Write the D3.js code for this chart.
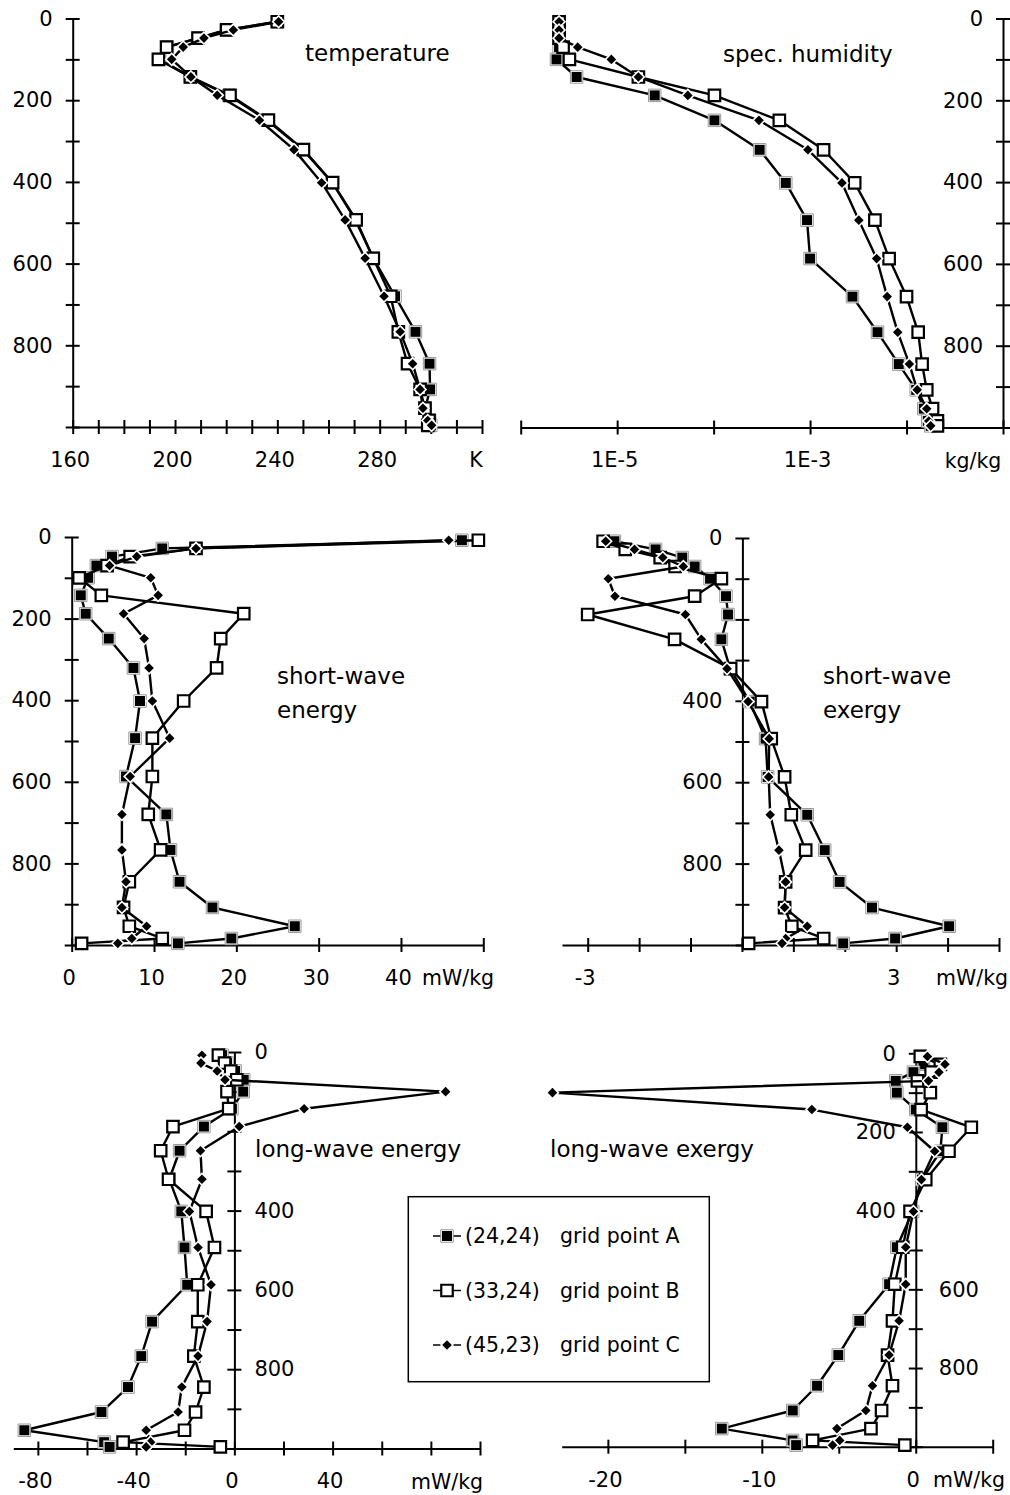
<!DOCTYPE html>
<html>
<head>
<meta charset="utf-8">
<script src="https://cdn.jsdelivr.net/npm/d3@7"></script>
<style>
body { margin: 0; background: #fff; }
svg { font-family: "DejaVu Sans", Verdana, sans-serif; }
.axis path, .axis line { stroke: #000; stroke-width: 2px; }
.axis text { font-size: 21px; fill: #000; font-family: "DejaVu Sans", Verdana, sans-serif; }
.title { font-size: 23px; }
.unit { font-size: 20.5px; }
</style>
</head>
<body>
<svg id="chart" width="1010" height="1495"></svg>
<script>
// model levels (hPa), same for every profile
var levels = [8, 28, 48, 70, 100, 143, 188, 249, 321, 402, 493, 587, 680, 767, 845, 908, 954, 984, 996];

// temperature (K)
var tempA = [240, 220, 209, 197, 194, 206, 221, 236, 250, 261.5, 270.5, 277.5, 286, 294, 299.5, 299.7, 297.8, 299.5, 300];
var tempB = [240, 220.2, 209, 196.7, 193.5, 206, 221.5, 236.5, 250.2, 261.6, 270.8, 277.5, 284.3, 287.3, 290.9, 295.8, 297.7, 299.3, 298.8];
var tempC = [240.5, 222.8, 211.3, 203.2, 198.7, 206.2, 216.5, 233, 246.5, 257.3, 266.5, 274.3, 281.7, 288, 292.9, 295.8, 296.9, 298.8, 300.3];

// specific humidity (kg/kg)
var humA = [2.5e-6, 2.5e-6, 2.5e-6, 2.5e-6, 2.35e-6, 3.8e-6, 2.45e-5, 1.02e-4, 3.0e-4, 5.6e-4, 9.3e-4, 1.0e-3, 2.75e-3, 5.0e-3, 8.3e-3, 1.26e-2, 1.51e-2, 1.66e-2, 1.78e-2];
var humB = [2.5e-6, 2.5e-6, 2.5e-6, 2.75e-6, 3.2e-6, 1.66e-5, 1.02e-4, 4.8e-4, 1.38e-3, 2.9e-3, 4.7e-3, 6.6e-3, 1.0e-2, 1.32e-2, 1.45e-2, 1.62e-2, 1.86e-2, 2.09e-2, 2.09e-2];
var humC = [2.5e-6, 2.5e-6, 2.5e-6, 3.9e-6, 8.7e-6, 1.66e-5, 5.4e-5, 2.95e-4, 9.5e-4, 2.14e-3, 3.2e-3, 4.9e-3, 6.3e-3, 8.1e-3, 1.07e-2, 1.29e-2, 1.62e-2, 1.7e-2, 1.78e-2];

// short-wave energy (mW/kg)
var swEnA = [47.4, 11.0, 4.9, 3.0, 2.0, 1.1, 1.7, 4.5, 7.5, 8.3, 7.7, 6.6, 11.5, 12.0, 13.1, 17.1, 27.1, 19.4, 12.9];
var swEnB = [49.4, 15.1, 7.1, 4.3, 0.9, 3.6, 20.9, 18.1, 17.6, 13.6, 9.8, 9.8, 9.3, 10.8, 7.0, 6.3, 7.0, 11.0, 1.2];
var swEnC = [45.8, 15.1, 7.9, 4.6, 9.6, 10.5, 6.3, 8.8, 9.4, 9.8, 11.9, 7.1, 6.1, 6.1, 6.6, 6.1, 9.1, 7.3, 5.6];

// short-wave exergy (mW/kg)
var swExA = [-2.48, -1.68, -1.16, -0.92, -0.62, -0.31, -0.27, -0.40, -0.23, 0.15, 0.46, 0.50, 1.27, 1.61, 1.90, 2.53, 4.03, 2.98, 1.97];
var swExB = [-2.70, -2.27, -1.59, -1.30, -0.40, -0.92, -3.0, -1.31, -0.22, 0.38, 0.57, 0.83, 0.96, 1.24, 0.85, 0.83, 0.97, 1.59, 0.13];
var swExC = [-2.65, -2.09, -1.54, -1.14, -2.60, -2.47, -1.10, -0.79, -0.29, 0.12, 0.53, 0.52, 0.55, 0.72, 0.85, 0.83, 1.27, 0.85, 0.78];

// long-wave energy (mW/kg)
var lwEnA = [-5, -3, 0.3, 3.8, 3.6, -1.0, -12.4, -22.3, -26.5, -21.6, -20.3, -19.2, -33.5, -37.9, -43.3, -54.1, -85.5, -53.0, -50.8];
var lwEnB = [-6.5, -4.0, -1.5, 1.0, -3.0, -2.3, -25.0, -30.0, -26.8, -11.5, -8.1, -14.9, -14.9, -16.5, -12.4, -15.8, -20.3, -45.3, -5.7];
var lwEnC = [-13.2, -13.6, -7.0, -3.8, 86.0, 28.4, 2.0, -13.8, -13.2, -18.3, -14.8, -9.5, -11.1, -14.8, -21.4, -22.9, -35.9, -34.1, -35.9];

// long-wave exergy (mW/kg)
var lwExA = [0.3, 0.5, -0.15, -1.3, -1.23, 0.0, 1.73, 1.6, 0.4, -0.2, -1.23, -1.73, -3.67, -5.03, -6.41, -7.99, -12.6, -8.0, -7.77];
var lwExB = [0.3, 1.6, 1.0, 0.11, 0.95, 0.35, 3.61, 2.16, 0.65, -0.37, -0.84, -1.36, -1.51, -1.83, -1.51, -2.22, -2.91, -6.7, -0.71];
var lwExC = [0.76, 1.9, 1.51, 0.83, -23.6, -6.75, -0.54, 1.23, 0.37, -0.15, -0.65, -0.65, -1.08, -1.73, -2.81, -3.24, -5.12, -4.94, -5.4];

// legend
var legendCoords = ["(24,24)", "(33,24)", "(45,23)"];
var legendNames = ["grid point A", "grid point B", "grid point C"];
var shapes = ["filled", "hollow", "diamond"];

var svg = d3.select("#chart");
var pTicks = d3.range(0, 1001, 100);

function drawMarker(g, cx, cy, shape) {
    var m = g.append("g").attr("transform", "translate(" + cx + "," + cy + ")");
    if (shape == "filled") {
        m.append("path").attr("d", d3.symbol(d3.symbolSquare, 156)()).attr("fill", "#fff").attr("stroke", "#999").attr("stroke-width", 1);
        m.append("path").attr("d", d3.symbol(d3.symbolSquare, 100)()).attr("fill", "#000");
    } else if (shape == "hollow") {
        m.append("path").attr("d", d3.symbol(d3.symbolSquare, 132)()).attr("fill", "#fff").attr("stroke", "#000").attr("stroke-width", 2.2);
    } else {
        m.append("path").attr("d", d3.symbol(d3.symbolSquare, 100)()).attr("transform", "rotate(45)").attr("fill", "#fff");
        m.append("path").attr("d", d3.symbol(d3.symbolSquare, 46)()).attr("transform", "rotate(45)").attr("fill", "#000");
    }
}

function drawPanel(o) {
    var g = svg.append("g");
    var x = o.x, y = o.y;

    // x axis (crossing ticks)
    var xAxis = d3.axisBottom(x)
        .tickValues(o.xTicks)
        .tickSize(7)
        .tickSizeOuter(0)
        .tickFormat(function(d) {
            var i = o.xLabelVals.indexOf(d);
            return i < 0 ? "" : o.xLabels[i];
        });
    var gx = g.append("g").attr("class", "axis")
        .attr("transform", "translate(0," + y(1000) + ")")
        .call(xAxis);
    gx.selectAll(".tick line").attr("y1", -7).attr("y2", 7);
    gx.selectAll(".tick text").attr("y", 25).attr("dx", -3);

    g.append("text").attr("class", "unit")
        .attr("x", o.unitX).attr("y", y(1000) + 33)
        .attr("text-anchor", "middle").attr("dy", "0.35em")
        .text(o.unit);

    // y axis (pressure)
    var yAxis = (o.yRight ? d3.axisRight(y) : d3.axisLeft(y))
        .tickValues(pTicks)
        .tickSize(7)
        .tickSizeOuter(0)
        .tickFormat(function(d) { return o.yLabels.indexOf(d) < 0 ? "" : d; });
    var gy = g.append("g").attr("class", "axis")
        .attr("transform", "translate(" + o.axisX + ",0)")
        .call(yAxis);
    gy.selectAll(".tick line").attr("x1", -7).attr("x2", 7);
    gy.selectAll(".tick text").attr("x", o.yRight ? 20 : -20);
    if (o.flipLabels) {
        gy.selectAll(".tick text")
            .filter(function(d) { return d >= o.flipLabels; })
            .attr("x", 23).attr("text-anchor", "start");
    }

    // titles
    o.title.forEach(function(t, i) {
        g.append("text").attr("class", "title")
            .attr("x", o.titleX).attr("y", o.titleY + i * 34)
            .text(t);
    });

    // profiles
    var line = d3.line()
        .x(function(d) { return x(d[0]); })
        .y(function(d) { return y(d[1]); });
    o.series.forEach(function(vals, k) {
        var pts = vals.map(function(v, i) { return [v, levels[i]]; });
        g.append("path").datum(pts)
            .attr("d", line)
            .attr("fill", "none")
            .attr("stroke", "#000")
            .attr("stroke-width", 2.4)
            .attr("stroke-linejoin", "round");
        pts.forEach(function(p) { drawMarker(g, x(p[0]), y(p[1]), shapes[k]); });
    });
}

// temperature
drawPanel({
    x: d3.scaleLinear().domain([160, 320]).range([72.7, 482]),
    y: d3.scaleLinear().domain([0, 1000]).range([18.5, 427]),
    xTicks: d3.range(160, 321, 10),
    xLabelVals: [160, 200, 240, 280], xLabels: ["160", "200", "240", "280"],
    unit: "K", unitX: 476,
    axisX: 72.7, yLabels: [0, 200, 400, 600, 800],
    title: ["temperature"], titleX: 305, titleY: 61,
    series: [tempA, tempB, tempC]
});

// specific humidity
var decades = [1e-6, 1e-5, 1e-4, 1e-3, 1e-2, 1e-1];
drawPanel({
    x: d3.scaleLog().domain([1e-6, 1e-1]).range([520.7, 1003]),
    y: d3.scaleLinear().domain([0, 1000]).range([18.5, 427.5]),
    xTicks: decades,
    xLabelVals: [1e-5, 1e-3], xLabels: ["1E-5", "1E-3"],
    unit: "kg/kg", unitX: 973,
    axisX: 1003, yLabels: [0, 200, 400, 600, 800],
    title: ["spec. humidity"], titleX: 723, titleY: 62,
    series: [humA, humB, humC]
});

// short-wave energy
drawPanel({
    x: d3.scaleLinear().domain([0, 50]).range([71.7, 483.3]),
    y: d3.scaleLinear().domain([0, 1000]).range([537, 945]),
    xTicks: d3.range(0, 51, 10),
    xLabelVals: [0, 10, 20, 30, 40], xLabels: ["0", "10", "20", "30", "40"],
    unit: "mW/kg", unitX: 458,
    axisX: 71.7, yLabels: [0, 200, 400, 600, 800],
    title: ["short-wave", "energy"], titleX: 277, titleY: 684,
    series: [swEnA, swEnB, swEnC]
});

// short-wave exergy
drawPanel({
    x: d3.scaleLinear().domain([-3.5, 5]).range([562, 999]),
    y: d3.scaleLinear().domain([0, 1000]).range([538, 945]),
    xTicks: d3.range(-3, 6, 1),
    xLabelVals: [-3, 3], xLabels: ["-3", "3"],
    unit: "mW/kg", unitX: 972,
    axisX: 742.4, yLabels: [0, 400, 600, 800],
    title: ["short-wave", "exergy"], titleX: 823, titleY: 684,
    series: [swExA, swExB, swExC]
});

// long-wave energy
drawPanel({
    x: d3.scaleLinear().domain([-90, 100]).range([13.3, 480]),
    y: d3.scaleLinear().domain([0, 1000]).range([1052, 1448.5]),
    xTicks: d3.range(-80, 101, 20),
    xLabelVals: [-80, -40, 0, 40], xLabels: ["-80", "-40", "0", "40"],
    unit: "mW/kg", unitX: 447,
    axisX: 234.4, yRight: true, yLabels: [0, 400, 600, 800],
    title: ["long-wave energy"], titleX: 255, titleY: 1157,
    series: [lwEnA, lwEnB, lwEnC]
});

// long-wave exergy
drawPanel({
    x: d3.scaleLinear().domain([-23, 5]).range([561.7, 992.7]),
    y: d3.scaleLinear().domain([0, 1000]).range([1053.3, 1446.7]),
    xTicks: d3.range(-20, 6, 5),
    xLabelVals: [-20, -10, 0], xLabels: ["-20", "-10", "0"],
    unit: "mW/kg", unitX: 969,
    axisX: 915.8, yLabels: [0, 200, 400, 600, 800], flipLabels: 600,
    title: ["long-wave exergy"], titleX: 550, titleY: 1157,
    series: [lwExA, lwExB, lwExC]
});

// legend box
var lg = svg.append("g");
lg.append("rect")
    .attr("x", 408.3).attr("y", 1196.7)
    .attr("width", 301).attr("height", 185)
    .attr("fill", "#fff").attr("stroke", "#000").attr("stroke-width", 1.5);
legendNames.forEach(function(name, i) {
    var cy = 1236 + i * 54.5;
    lg.append("line").attr("x1", 433).attr("x2", 461).attr("y1", cy).attr("y2", cy)
        .attr("stroke", "#000").attr("stroke-width", 1.5);
    drawMarker(lg, 447, cy, shapes[i]);
    lg.append("text").attr("x", 465).attr("y", cy).attr("dy", "0.35em")
        .style("font-size", "20.5px").text(legendCoords[i]);
    lg.append("text").attr("x", 560).attr("y", cy).attr("dy", "0.35em")
        .style("font-size", "20.5px").text(name);
});
</script>
</body>
</html>
